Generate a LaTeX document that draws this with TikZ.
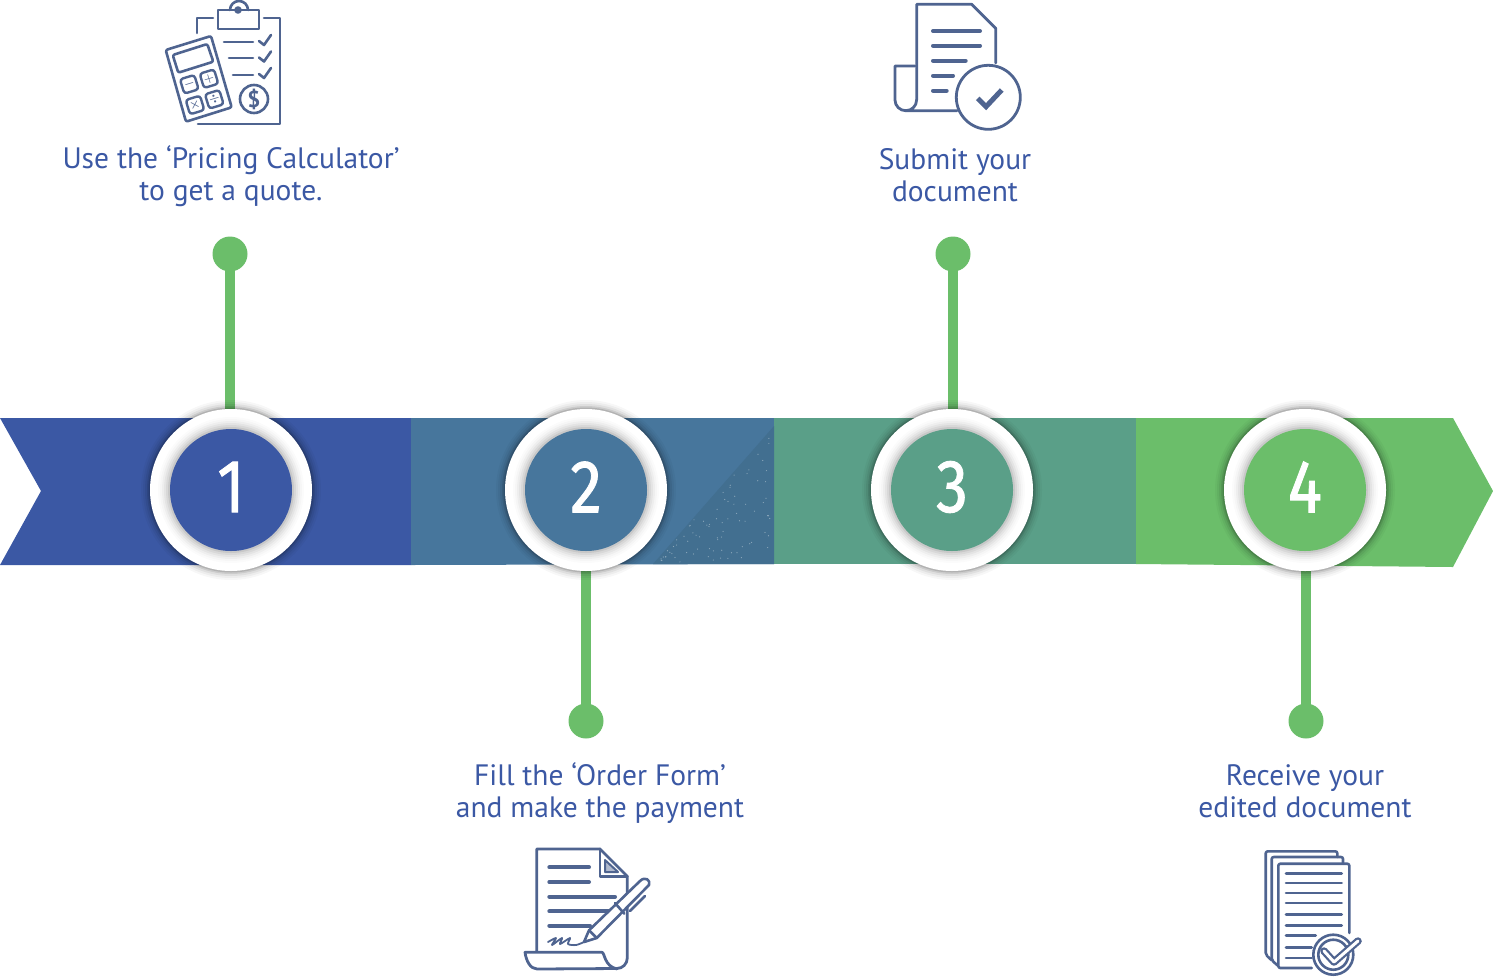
\documentclass[tikz,border=0pt]{standalone}
\usepackage{fontspec}
\setmainfont{PT Sans}
\newfontfamily\digitfont[FakeBold=1.2]{Fira Sans}
\usetikzlibrary{backgrounds}
\definecolor{blueband}{HTML}{3B58A4}
\definecolor{tealband}{HTML}{47769C}
\definecolor{tealdark}{HTML}{426F90}
\definecolor{seaband}{HTML}{5A9F88}
\definecolor{greenband}{HTML}{6BBE6A}
\definecolor{iconblue}{HTML}{4F6490}
\definecolor{labelblue}{HTML}{3B58A4}
\begin{document}
\begin{tikzpicture}[x=1pt,y=-1pt]
  \tikzstyle{ring}=[circle,fill=white,minimum size=162pt,inner sep=0pt]
  \tikzstyle{pin}=[circle,fill=greenband,minimum size=35pt,inner sep=0pt]
  \tikzstyle{stem}=[draw=greenband,line width=9.5pt,shorten <=-2pt]
  \tikzstyle{steplabel}=[align=center,text=labelblue,font=\fontsize{29.5}{32}\selectfont,inner sep=0pt]
  \tikzstyle{digit}=[text=white,font=\digitfont\fontsize{75}{75}\selectfont,inner sep=0pt,xscale=.85]
  \tikzstyle{icon}=[draw=iconblue,line width=2.6pt,line cap=round,line join=round]
  \tikzstyle{iconbar}=[draw=iconblue,line width=4pt,line cap=round]
  \tikzstyle{calcbtn}=[draw=iconblue,line width=2.4pt,rounded corners=3pt,minimum size=15pt,inner sep=0pt,rotate=17,text=iconblue,font=\boldmath\fontsize{13}{13}\selectfont]
  \useasboundingbox (0,0) rectangle (1493,978);

  % band
  \fill[blueband] (0,418) -- (411,418) -- (411,565) -- (0,565) -- (41,491) -- cycle;
  \fill[tealband] (411,418) -- (774,418) -- (774,564) -- (411,565) -- cycle;
  \fill[seaband] (774,418) -- (1136,418) -- (1136,564) -- (774,564) -- cycle;
  \fill[greenband] (1136,418) -- (1453,418) -- (1493,491) -- (1453,567) -- (1136,564) -- cycle;
  \fill[tealdark] (774,426) -- (653,564) -- (774,564) -- cycle;
  \pgfmathsetseed{41}
  \foreach \i in {1,...,80} {
    \pgfmathsetmacro{\u}{rnd}
    \pgfmathsetmacro{\v}{rnd}
    \fill[white,opacity=.4] ({772-115*\u},{562-\v*132*(1-\u)}) circle (.6);
  }

  % steps
  \foreach \n/\x/\col in {1/231/blueband,2/586/tealband,3/952/seaband,4/1305/greenband} {
    \foreach \r/\o in {90/.03,88/.04,86/.06,84/.09,82.5/.12}
      \fill[black,opacity=\o] (\x,490) circle (\r);
    \node[ring] (ring\n) at (\x,490) {};
    \foreach \r/\o in {73/.015,71/.02,69/.03,67/.04,65/.05,63/.07}
      \fill[black,opacity=\o] (\x,490) circle (\r);
    \node[circle,fill=\col,minimum size=122pt,inner sep=0pt] (disc\n) at (\x,490) {};
    \node[digit] (num\n) at (\x,487) {\n};
  }

  \node[pin] (pin1) at (230,254) {};
  \node[pin] (pin2) at (586,721) {};
  \node[pin] (pin3) at (953,254) {};
  \node[pin] (pin4) at (1306,721) {};
  \begin{scope}[on background layer]
    \foreach \n in {1,...,4}
      \draw[stem] (pin\n) -- (pin\n |- ring\n);
  \end{scope}

  % labels
  \node[steplabel] (text1) at (231,176.5) {Use the ‘Pricing Calculator’\\to get a quote.};
  \node[steplabel] (text2) at (600,793.5) {Fill the ‘Order Form’\\and make the payment};
  \node[steplabel] (text3) at (955,175) {Submit your\\document};
  \node[steplabel] (text4) at (1305,791) {Receive your\\edited document};

  % icon 1: clipboard and calculator
  \draw[icon] (197,33) -- (197,18) -- (213,18);
  \draw[icon] (264,18) -- (280,18) -- (280,124) -- (198,124);
  \draw[icon] (218,10) rectangle (259,29);
  \draw[icon] (230,10) arc[start angle=180,end angle=360,radius=9];
  \draw[icon] (238,10) circle (2.5);
  \draw[icon] (224,42) -- (253,42) (229,58) -- (253,58) (233,75) -- (253,75);
  \foreach \y in {0,16.5,33}
    \draw[icon] (259,41+\y) -- (264,45+\y) -- (271,35+\y);
  \node[circle,draw=iconblue,line width=2.6pt,minimum size=28pt,inner sep=0pt,text=iconblue,font=\bfseries\fontsize{23}{23}\selectfont] (dollar) at (254,99) {\$};
  \draw[icon,rounded corners=2pt] (165.7,50) -- (211,36) -- (231.7,107.3) -- (186,121.7) -- cycle;
  \draw[icon,rounded corners=2pt] (172.7,55) -- (207.3,44) -- (213.3,61.7) -- (178.3,72.7) -- cycle;
  \node[calcbtn] (btnminus) at (189.3,84.3) {$-$};
  \node[calcbtn] (btnplus) at (209,78.7) {$+$};
  \node[calcbtn] (btntimes) at (195,105) {$\times$};
  \node[calcbtn] (btndiv) at (214.3,99.3) {$\div$};

  % icon 3: document and check
  \draw[icon,line width=2.8pt] (916.7,100) -- (916.7,4.3) -- (971.7,4.3) -- (995.7,28.3) -- (995.7,63);
  \draw[icon,line width=2.8pt] (915,66) -- (895,66) -- (895,100) arc[start angle=180,end angle=0,x radius=10.8,y radius=10.7] (906.7,110.7) -- (957,110.7);
  \draw[iconbar] (933,31) -- (980,31);
  \draw[iconbar] (933,45.7) -- (980,45.7);
  \draw[iconbar] (933,60.7) -- (965.7,60.7);
  \draw[iconbar] (933,75.7) -- (953,75.7);
  \draw[iconbar] (933,90.7) -- (946.7,90.7);
  \draw[icon,line width=2.8pt] (988.3,97.3) circle (32);
  \draw[draw=iconblue,line width=5pt] (977.7,98.3) -- (986,106.7) -- (1001.7,90);

  % icon 2: form and pen
  \draw[icon,line width=2.8pt] (536.7,950.3) -- (536.7,849) -- (600,849) -- (627.3,876.3) -- (627.3,958) arc[start angle=0,end angle=90,radius=10.5] -- (537,969) .. controls (530,969) and (526,960) .. (525,952.3) -- (602,952.3) .. controls (605,953) and (604,966) .. (617,969);
  \draw[icon,line width=2.8pt] (600,849) -- (600,876.3) -- (627.3,876.3);
  \draw[icon,line width=2pt,fill=iconblue!45] (605,860) -- (605,872) -- (618,872) -- cycle;
  \draw[iconbar] (549.3,867.3) -- (589,867.3);
  \draw[iconbar] (549.3,882) -- (589,882);
  \draw[iconbar] (549.3,896.7) -- (615,896.7);
  \draw[iconbar] (549.3,911.3) -- (615,911.3);
  \draw[iconbar] (549.3,925.7) -- (590,925.7);
  \draw[icon,fill=white] (589,930.3) -- (640,881) .. controls (645,876) and (651,880) .. (649,885) -- (596.7,938) -- (584,942) -- cycle;
  \draw[icon] (589,930.3) -- (596.7,938) (615,903) -- (624.3,913.7);
  \draw[icon] (630,911) -- (645,896);
  \draw[icon,line width=1.8pt] plot[smooth] coordinates {(548,942) (556,938) (552,945) (562,938) (560,944) (570,938) (568,944) (576,945) (584,942)};

  % icon 4: pages and check
  \draw[icon,rounded corners=2pt] (1271.7,960.3) -- (1265.7,954.7) -- (1265.7,851.3) -- (1337.3,851.3) -- (1337.3,857);
  \draw[icon,rounded corners=2pt] (1278.3,966) -- (1271.7,960.3) -- (1271.7,857) -- (1343,857) -- (1343,863.7);
  \draw[icon,rounded corners=2pt] (1349.3,933) -- (1349.3,863.7) -- (1278.3,863.7) -- (1278.3,968) -- (1311.7,968);
  \foreach \y in {873.7,883,893,903,914.7,925.3}
    \draw[icon] (1286,\y) -- (1341.7,\y);
  \draw[icon] (1286,935.7) -- (1315.7,935.7) (1286,947.3) -- (1311.7,947.3) (1286,958) -- (1311.7,958);
  \draw[icon,fill=white] (1333.3,954.7) circle (20);
  \draw[icon] (1333.3,954.7) circle (15);
  \draw[draw=iconblue,line width=7.5pt,line cap=round,line join=round] (1324,951) -- (1334,962) -- (1358,941);
  \draw[draw=white,line width=3pt,line cap=round,line join=round] (1324,951) -- (1334,962) -- (1358,941);
\end{tikzpicture}
\end{document}
